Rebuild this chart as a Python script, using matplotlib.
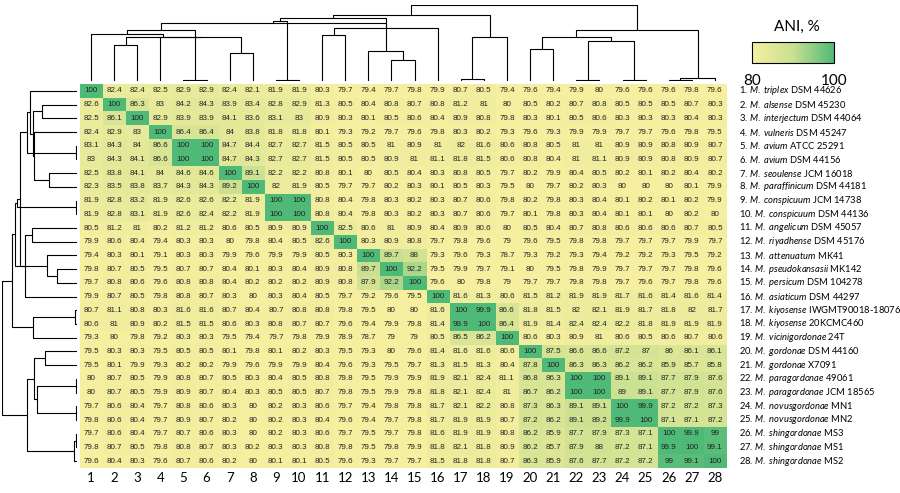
import numpy as np
import matplotlib
matplotlib.use('Agg')
import matplotlib.pyplot as plt
from matplotlib.colors import LinearSegmentedColormap

plt.rcParams['font.family'] = ['Lato', 'DejaVu Sans']
plt.rcParams['mathtext.fontset'] = 'custom'
plt.rcParams['mathtext.rm'] = 'Lato'
plt.rcParams['mathtext.it'] = 'Lato:italic'

species = ['M. triplex', 'M. alsense', 'M. interjectum', 'M. vulneris', 'M. avium',
           'M. avium', 'M. seoulense', 'M. paraffinicum', 'M. conspicuum', 'M. conspicuum',
           'M. angelicum', 'M. riyadhense', 'M. attenuatum', 'M. pseudokansasii',
           'M. persicum', 'M. asiaticum', 'M. kiyosense', 'M. kiyosense',
           'M. vicinigordonae', 'M. gordonae', 'M. gordonae', 'M. paragordonae',
           'M. paragordonae', 'M. novusgordonae', 'M. novusgordonae', 'M. shingordonae',
           'M. shingordonae', 'M. shingordonae']
strains = ['DSM 44626', 'DSM 45230', 'DSM 44064', 'DSM 45247', 'ATCC 25291', 'DSM 44156',
           'JCM 16018', 'DSM 44181', 'JCM 14738', 'DSM 44136', 'DSM 45057', 'DSM 45176',
           'MK41', 'MK142', 'DSM 104278', 'DSM 44297', 'IWGMT90018-18076', '20KCMC460',
           '24T', 'DSM 44160', 'X7091', '49061', 'JCM 18565', 'MN1', 'MN2', 'MS3', 'MS1', 'MS2']

ani = np.array([
    [100, 82.4, 82.4, 82.5, 82.9, 82.9, 82.4, 82.1, 81.9, 81.9, 80.3, 79.7, 79.4, 79.7, 79.8, 79.9, 80.7, 80.5, 79.4, 79.6, 79.4, 79.9, 80, 79.6, 79.6, 79.6, 79.8, 79.6],
    [82.6, 100, 86.3, 83, 84.2, 84.3, 83.9, 83.4, 82.8, 82.9, 81.3, 80.5, 80.4, 80.8, 80.7, 80.8, 81.2, 81, 80, 80.5, 80.2, 80.7, 80.8, 80.5, 80.5, 80.5, 80.7, 80.3],
    [82.5, 86.1, 100, 82.9, 83.9, 83.9, 84.1, 83.6, 83.1, 83, 80.9, 80.3, 80.1, 80.5, 80.6, 80.4, 80.9, 80.8, 79.8, 80.3, 80.1, 80.5, 80.6, 80.3, 80.3, 80.3, 80.4, 80.3],
    [82.4, 82.9, 83, 100, 86.4, 86.4, 84, 83.8, 81.8, 81.8, 80.1, 79.3, 79.2, 79.7, 79.6, 79.8, 80.3, 80.2, 79.3, 79.6, 79.3, 79.9, 79.9, 79.7, 79.7, 79.6, 79.8, 79.5],
    [83.1, 84.3, 84, 86.6, 100, 100, 84.7, 84.4, 82.7, 82.7, 81.5, 80.5, 80.5, 81, 80.9, 81, 82, 81.6, 80.6, 80.8, 80.5, 81, 81, 80.9, 80.9, 80.8, 80.9, 80.7],
    [83, 84.3, 84.1, 86.6, 100, 100, 84.7, 84.3, 82.7, 82.7, 81.5, 80.5, 80.5, 80.9, 81, 81.1, 81.8, 81.5, 80.6, 80.8, 80.4, 81, 81.1, 80.9, 80.9, 80.8, 80.9, 80.7],
    [82.5, 83.8, 84.1, 84, 84.6, 84.6, 100, 89.1, 82.2, 82.2, 80.8, 80.1, 80, 80.5, 80.4, 80.3, 80.8, 80.5, 79.7, 80.2, 79.9, 80.4, 80.5, 80.2, 80.1, 80.2, 80.4, 80.2],
    [82.3, 83.5, 83.8, 83.7, 84.3, 84.3, 89.2, 100, 82, 81.9, 80.5, 79.7, 79.7, 80.2, 80.3, 80.1, 80.5, 80.3, 79.5, 80, 79.7, 80.2, 80.3, 80, 80, 80, 80.1, 79.9],
    [81.9, 82.8, 83.2, 81.9, 82.6, 82.6, 82.2, 81.9, 100, 100, 80.8, 80.4, 79.8, 80.3, 80.2, 80.3, 80.7, 80.6, 79.8, 80.2, 79.8, 80.3, 80.4, 80.1, 80.2, 80.1, 80.2, 79.9],
    [81.9, 82.8, 83.1, 81.9, 82.6, 82.4, 82.2, 81.9, 100, 100, 80.8, 80.4, 79.8, 80.3, 80.2, 80.3, 80.7, 80.6, 79.7, 80.1, 79.8, 80.3, 80.4, 80.1, 80.1, 80, 80.2, 80],
    [80.5, 81.2, 81, 80.2, 81.2, 81.2, 80.6, 80.5, 80.9, 80.9, 100, 82.5, 80.6, 81, 80.9, 80.4, 80.9, 80.6, 80, 80.5, 80.4, 80.7, 80.8, 80.6, 80.6, 80.6, 80.7, 80.5],
    [79.9, 80.6, 80.4, 79.4, 80.3, 80.3, 80, 79.8, 80.4, 80.5, 82.6, 100, 80.3, 80.9, 80.8, 79.7, 79.8, 79.6, 79, 79.6, 79.5, 79.8, 79.8, 79.7, 79.7, 79.7, 79.9, 79.7],
    [79.4, 80.3, 80.1, 79.1, 80.3, 80.3, 79.9, 79.6, 79.9, 79.9, 80.5, 80.3, 100, 89.7, 88, 79.3, 79.6, 79.3, 78.7, 79.3, 79.2, 79.3, 79.4, 79.2, 79.2, 79.3, 79.5, 79.2],
    [79.8, 80.7, 80.5, 79.5, 80.7, 80.7, 80.4, 80.1, 80.3, 80.4, 80.9, 80.8, 89.7, 100, 92.2, 79.5, 79.9, 79.7, 79.1, 80, 79.5, 79.8, 79.9, 79.7, 79.7, 79.7, 79.8, 79.6],
    [79.7, 80.8, 80.6, 79.6, 80.8, 80.8, 80.4, 80.2, 80.2, 80.2, 80.9, 80.8, 87.9, 92.2, 100, 79.6, 80, 79.8, 79, 79.7, 79.7, 79.8, 79.8, 79.7, 79.6, 79.7, 79.8, 79.6],
    [79.9, 80.7, 80.5, 79.8, 80.8, 80.7, 80.3, 80, 80.3, 80.4, 80.5, 79.7, 79.2, 79.6, 79.5, 100, 81.6, 81.3, 80.6, 81.5, 81.2, 81.9, 81.9, 81.7, 81.6, 81.4, 81.6, 81.4],
    [80.7, 81.1, 80.8, 80.3, 81.6, 81.6, 80.7, 80.4, 80.7, 80.8, 80.8, 79.8, 79.5, 80, 80, 81.6, 100, 99.9, 86.6, 81.8, 81.5, 82, 82.1, 81.9, 81.7, 81.8, 82, 81.7],
    [80.6, 81, 80.9, 80.2, 81.5, 81.5, 80.6, 80.3, 80.8, 80.7, 80.7, 79.6, 79.4, 79.9, 79.8, 81.4, 99.9, 100, 86.4, 81.9, 81.4, 82.4, 82.4, 82.2, 81.8, 81.9, 81.9, 81.9],
    [79.3, 80, 79.8, 79.2, 80.3, 80.3, 79.5, 79.4, 79.7, 79.8, 79.9, 78.9, 78.7, 79, 79, 80.5, 86.5, 86.2, 100, 80.6, 80.3, 80.9, 81, 80.6, 80.5, 80.6, 80.7, 80.6],
    [79.5, 80.3, 80.3, 79.5, 80.5, 80.5, 80.1, 79.8, 80.1, 80.2, 80.3, 79.5, 79.3, 80, 79.6, 81.4, 81.6, 81.6, 80.6, 100, 87.5, 86.6, 86.6, 87.2, 87, 86, 86.1, 86.1],
    [79.5, 80.1, 79.9, 79.3, 80.2, 80.2, 79.9, 79.6, 79.9, 79.9, 80.4, 79.6, 79.3, 79.5, 79.7, 81.3, 81.5, 81.3, 80.4, 87.8, 100, 86.3, 86.3, 86.2, 86.2, 85.9, 85.7, 85.8],
    [80, 80.7, 80.5, 79.9, 80.8, 80.7, 80.5, 80.3, 80.4, 80.5, 80.8, 79.8, 79.5, 79.9, 79.9, 81.9, 82.1, 82.4, 81.1, 86.8, 86.3, 100, 100, 89.1, 89.1, 87.7, 87.9, 87.6],
    [80, 80.7, 80.5, 79.9, 80.9, 80.7, 80.4, 80.3, 80.5, 80.5, 80.7, 79.8, 79.5, 79.9, 79.8, 81.8, 82.1, 82.4, 81, 86.7, 86.2, 100, 100, 89, 89.1, 87.7, 87.9, 87.6],
    [79.7, 80.6, 80.4, 79.7, 80.8, 80.6, 80.3, 80, 80.2, 80.3, 80.6, 79.7, 79.4, 79.8, 79.8, 81.7, 82.1, 82.2, 80.8, 87.3, 86.3, 89.1, 89.1, 100, 99.9, 87.2, 87.2, 87.3],
    [79.8, 80.6, 80.4, 79.7, 80.9, 80.7, 80.2, 80, 80.2, 80.3, 80.4, 79.6, 79.4, 79.7, 79.8, 81.7, 81.9, 81.9, 80.7, 87.2, 86.2, 89.1, 89.2, 99.9, 100, 87.1, 87.1, 87.2],
    [79.7, 80.6, 80.4, 79.7, 80.7, 80.6, 80.3, 80, 80.2, 80.3, 80.6, 79.7, 79.5, 79.7, 79.8, 81.6, 81.9, 81.9, 80.8, 86.2, 85.9, 87.7, 87.9, 87.3, 87.1, 100, 99.9, 99],
    [79.8, 80.7, 80.5, 79.8, 80.8, 80.7, 80.3, 80.2, 80.3, 80.3, 80.8, 79.8, 79.5, 79.8, 79.9, 81.8, 82.1, 81.8, 80.9, 86.2, 85.7, 87.9, 88, 87.2, 87.1, 99.9, 100, 99.1],
    [79.6, 80.4, 80.3, 79.6, 80.7, 80.6, 80.2, 80, 80.1, 80.1, 80.5, 79.6, 79.3, 79.7, 79.7, 81.5, 81.8, 81.8, 80.7, 86.3, 85.9, 87.6, 87.7, 87.2, 87.2, 99, 99.1, 100],
])
n = len(ani)


# average linkage on euclidean distance between rows
def linkage(mat):
    d = np.sqrt(((mat[:, None, :] - mat[None, :, :]) ** 2).sum(-1))
    clusters = {i: [i] for i in range(len(mat))}
    merges = []
    nid = len(mat)
    while len(clusters) > 1:
        keys = list(clusters)
        best = None
        for a in range(len(keys)):
            for b in range(a + 1, len(keys)):
                ka, kb = keys[a], keys[b]
                dist = d[np.ix_(clusters[ka], clusters[kb])].mean()
                if best is None or dist < best[0]:
                    best = (dist, ka, kb)
        dist, ka, kb = best
        merges.append((ka, kb, dist, nid))
        clusters[nid] = clusters.pop(ka) + clusters.pop(kb)
        nid += 1
    return merges


def dendro_segments(merges, count):
    pos = {i: i + 0.5 for i in range(count)}
    hgt = {i: 0.0 for i in range(count)}
    segs = []
    for a, b, h, k in merges:
        segs.append(([pos[a], pos[a], pos[b], pos[b]], [hgt[a], h, h, hgt[b]]))
        pos[k] = (pos[a] + pos[b]) / 2
        hgt[k] = h
    return segs


merges = linkage(ani)
segs = dendro_segments(merges, n)
hmax = max(m[2] for m in merges)

W, H = 900, 493
fig = plt.figure(figsize=(9, 4.93), dpi=100)

hx0, hx1, hy0, hy1 = 79.5, 726.5, 84, 468
ax = fig.add_axes([hx0 / W, 1 - hy1 / H, (hx1 - hx0) / W, (hy1 - hy0) / H])
cmap = LinearSegmentedColormap.from_list('ani', ['#f6efa0', '#c8e090', '#4fba78'])
im = ax.imshow(ani, cmap=cmap, vmin=80, vmax=100, aspect='auto',
               extent=[0, n, n, 0], interpolation='nearest')
for i in range(n):
    for j in range(n):
        ax.text(j + 0.5, i + 0.5, f'{ani[i, j]:g}', ha='center', va='center',
                fontsize=5.8, family='Liberation Sans', color='#222222')
ax.set_xlim(0, n)
ax.set_ylim(n, 0)
ax.set_xticks(np.arange(n) + 0.5)
ax.set_xticklabels([str(i + 1) for i in range(n)], fontsize=9.5)
ax.set_yticks([])
ax.tick_params(axis='x', length=0, pad=3)
for s in ax.spines.values():
    s.set_visible(False)

for i in range(n):
    ax.text(n + 0.55, i + 0.5, f'{i + 1}. $\\it{{{species[i].replace(" ", "\\ ")}}}$ {strains[i]}',
            ha='left', va='center', fontsize=6.75)

# top dendrogram
axt = fig.add_axes([hx0 / W, 1 - 81 / H, (hx1 - hx0) / W, 76 / H])
for xs, ys in segs:
    axt.plot(xs, ys, color='black', lw=0.8, solid_capstyle='butt')
axt.set_xlim(0, n)
axt.set_ylim(0, hmax)
axt.axis('off')

# left dendrogram
axl = fig.add_axes([2 / W, 1 - hy1 / H, 75 / W, (hy1 - hy0) / H])
for xs, ys in segs:
    axl.plot(ys, xs, color='black', lw=0.8, solid_capstyle='butt')
axl.set_ylim(n, 0)
axl.set_xlim(hmax, 0)
axl.axis('off')

# colour bar
cax = fig.add_axes([752 / W, 1 - 63 / H, 82 / W, 21 / H])
cb = fig.colorbar(im, cax=cax, orientation='horizontal')
cb.set_ticks([80, 100])
cb.ax.tick_params(labelsize=11, length=0, pad=8)
cb.outline.set_linewidth(0.8)
fig.text(797 / W, 1 - 27 / H, 'ANI, %', ha='center', va='center', fontsize=11)

fig.savefig('out.png', dpi=100)
